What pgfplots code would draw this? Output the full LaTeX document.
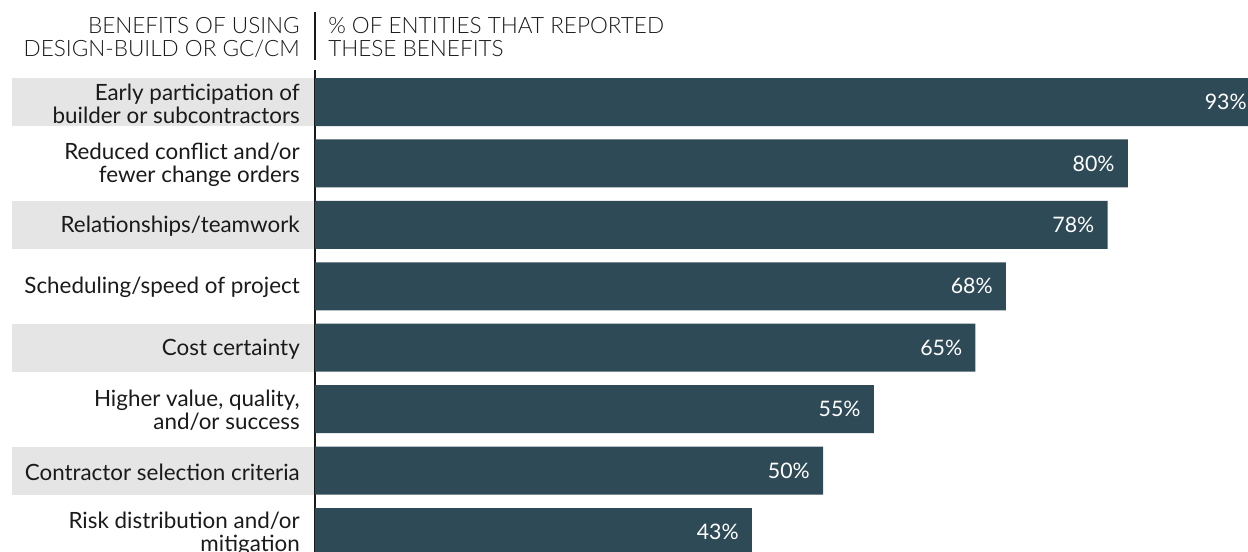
\documentclass[border=0pt]{standalone}
\usepackage{pgfplots}
\pgfplotsset{compat=1.18}
\usepackage{fontspec}
\setmainfont{Lato}
\newfontfamily\lightfont{Lato Light}
\definecolor{barc}{HTML}{2F4A57}
\definecolor{band}{HTML}{E5E5E5}
\definecolor{txt}{HTML}{1A1A1A}
\begin{document}
\begin{tikzpicture}[x=0.75pt,y=0.75pt]
\useasboundingbox (0,0) rectangle (1248,552);
\foreach \i in {0,2,4,6}{
  \fill[band] (12,{552-(78+61.43*\i)}) rectangle (315,{552-(126+61.43*\i)});
}
\node[anchor=north east, align=right, inner sep=0pt, font=\lightfont\fontsize{16.9}{17.25}\selectfont, text=txt] at (300,552-17) {BENEFITS OF USING\\DESIGN-BUILD OR GC/CM};
\node[anchor=north west, align=left, inner sep=0pt, font=\lightfont\fontsize{16.9}{17.25}\selectfont, text=txt] at (328,552-17) {\% OF ENTITIES THAT REPORTED\\THESE BENEFITS};
\draw[line width=1.1pt, txt] (315,552-12) -- (315,552-60);
\begin{axis}[
  at={(236.25pt,0pt)}, anchor=south west,
  scale only axis, width=699.75pt, height=361.5pt,
  xmin=0, xmax=91.83, ymin=-0.521, ymax=7.325, y dir=reverse,
  clip=false,
  axis x line=none, axis y line=left,
  y axis line style={-, line width=1.1pt, txt},
  xtick=\empty,
  ytick={0,1,2,3,4,5,6,7},
  major tick length=0pt,
  /pgf/number format/assume math mode=true,
  yticklabels={{Early participation of\\builder or subcontractors},{Reduced conflict and/or\\fewer change orders},{Relationships/teamwork},{Scheduling/speed of project},{Cost certainty},{Higher value, quality,\\and/or success},{Contractor selection criteria},{Risk distribution and/or\\mitigation}},
  yticklabel style={align=right, inner sep=0pt, text=txt, font=\fontsize{16.8}{17.25}\selectfont, xshift=-11.25pt, yshift=-1.1pt},
]
\addplot[xbar, bar shift=0pt, bar width=36pt, fill=barc, draw=none,
  nodes near coords={\pgfmathprintnumber{\pgfplotspointmeta}\%},
  nodes near coords style={anchor=east, xshift=-9.75pt, text=white, font=\fontsize{16}{18}\selectfont, inner sep=0pt}]
  coordinates {(93,0) (80,1) (78,2) (68,3) (65,4) (55,5) (50,6) (43,7)};
\end{axis}
\end{tikzpicture}
\end{document}
